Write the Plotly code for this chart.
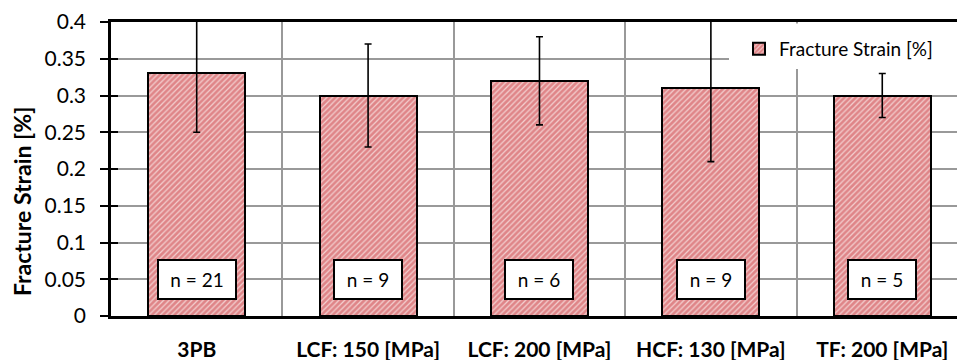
import plotly.graph_objects as go

categories = ["3PB", "LCF: 150 [MPa]", "LCF: 200 [MPa]", "HCF: 130 [MPa]", "TF: 200 [MPa]"]
strain = [0.33, 0.30, 0.32, 0.31, 0.30]
strain_err = [0.08, 0.07, 0.06, 0.10, 0.03]
sample_n = [21, 9, 6, 9, 5]
y_ticks = [0, 0.05, 0.1, 0.15, 0.2, 0.25, 0.3, 0.35, 0.4]
y_tick_text = ["0", "0.05", "0.1", "0.15", "0.2", "0.25", "0.3", "0.35", "0.4"]
series_name = "Fracture Strain [%]"
y_title = "Fracture Strain [%]"

FONT = "Lato"
LABEL_Y = 0.049

fig = go.Figure()
fig.add_trace(go.Bar(
    x=categories, y=strain, name=series_name,
    width=0.566,
    marker=dict(
        color="white",
        line=dict(color="black", width=2),
        pattern=dict(shape="/", size=4, solidity=0.7, fgcolor="#cc3b41",
                     bgcolor="#f3cfcf", fillmode="overlay"),
    ),
    error_y=dict(type="data", array=strain_err, visible=True,
                 color="black", thickness=1.6, width=3.5),
))

# duplicate axis for inside tick marks (ticks cross the axis line)
fig.add_trace(go.Scatter(x=[categories[0]], y=[0], yaxis="y2", mode="markers",
                         marker=dict(opacity=0), showlegend=False, hoverinfo="skip"))

for c, n in zip(categories, sample_n):
    fig.add_annotation(
        x=c, y=LABEL_Y, xref="x", yref="y", text=f"n = {n}", showarrow=False,
        font=dict(family=FONT, size=19, color="black"),
        bgcolor="white", bordercolor="black", borderwidth=2, borderpad=3,
        width=70 if n >= 10 else 60, height=31,
    )

# rotated y-axis title
fig.add_annotation(
    x=(22 - 111) / 846, y=(316 - 202) / 294, xref="paper", yref="paper",
    text=f"<b>{y_title}</b>", textangle=-90, showarrow=False,
    font=dict(family=FONT, size=23, color="black"),
    xanchor="center", yanchor="middle",
)

fig.add_shape(type="rect", xref="paper", yref="paper",
              x0=0.7305, x1=1.0, y0=0.84, y1=0.995,
              fillcolor="white", line=dict(width=0), layer="above")

fig.update_layout(
    width=957, height=360,
    margin=dict(l=111, r=0, t=22, b=44),
    paper_bgcolor="white", plot_bgcolor="white",
    font=dict(family=FONT, color="black"),
    bargap=0,
    showlegend=True,
    legend=dict(x=(739 - 111) / 846, y=(316 - 49) / 294,
                xanchor="left", yanchor="middle",
                bgcolor="rgba(255,255,255,0)", borderwidth=0,
                font=dict(family=FONT, size=19, color="black")),
    xaxis=dict(
        type="category", range=[-0.5, 4.436],
        showline=True, linecolor="black", linewidth=2.5, mirror=True,
        showgrid=True, gridcolor="#999999", gridwidth=1.5,
        tickson="boundaries", ticks="", ticklen=0,
        tickfont=dict(family=FONT, size=21, color="black", weight="bold"),
        ticklabelstandoff=13,
    ),
    yaxis=dict(
        range=[0, 0.4], tickvals=y_ticks, ticktext=y_tick_text,
        showline=True, linecolor="black", linewidth=2.5,
        showgrid=True, gridcolor="#999999", gridwidth=1.5,
        ticks="outside", ticklen=8, tickwidth=2, tickcolor="black",
        tickfont=dict(family=FONT, size=21, color="black"),
        ticklabelstandoff=10,
        zeroline=False,
    ),
    yaxis2=dict(
        range=[0, 0.4], tickvals=y_ticks, overlaying="y", side="left",
        showticklabels=False, showgrid=False, zeroline=False, showline=False,
        ticks="inside", ticklen=7, tickwidth=2, tickcolor="black",
    ),
)

fig.write_html("out.html")
